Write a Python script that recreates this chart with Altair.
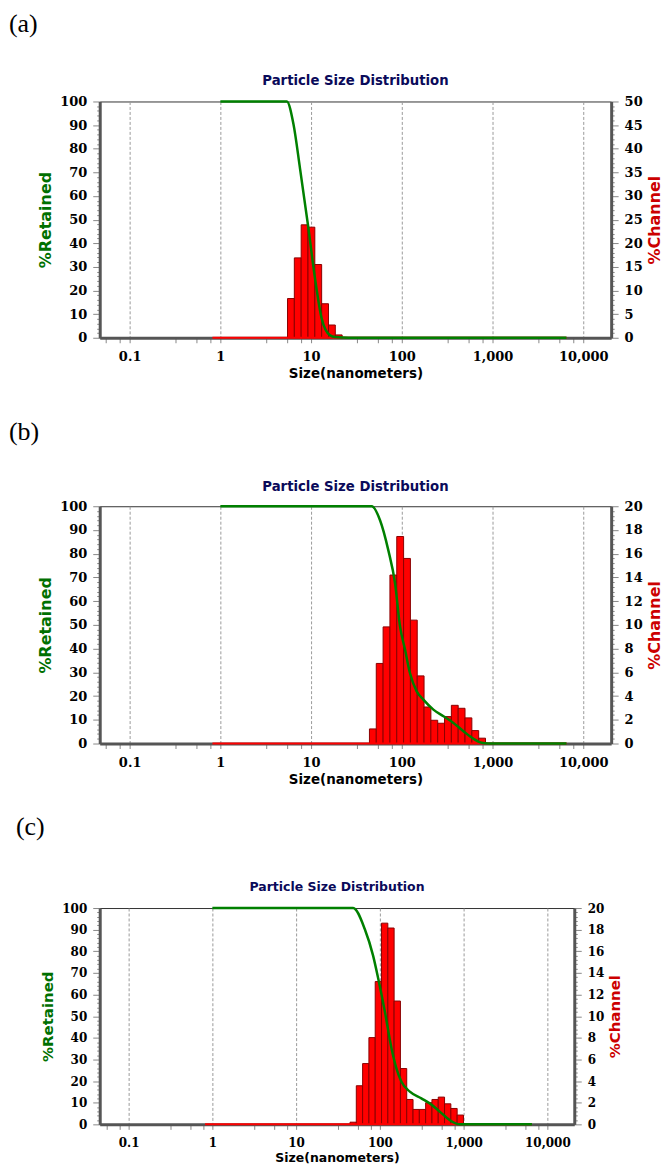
import altair as alt
import pandas as pd

# ---------------- text ----------------
TAGS = ["(a)", "(b)", "(c)"]
PANEL_TITLE = "Particle Size Distribution"
X_TITLE = "Size(nanometers)"
Y_LEFT_TITLE = "%Retained"
Y_RIGHT_TITLE = "%Channel"

# ---------------- x axis ticks ----------------
x_major = [0.1, 1, 10, 100, 1000, 10000]
x_minor_factors = [3.2, 5.5, 7.8]

# red zero line (empty channels) and end of the cumulative curve
red_from, red_to = 0.818, 6540

# ---------------- panel (a) ----------------
a_lo = [5.50, 6.54, 7.78, 9.25, 11.00, 13.08, 15.56, 18.50]
a_hi = [6.54, 7.78, 9.25, 11.00, 13.08, 15.56, 18.50, 22.00]
a_channel = [8.3, 16.9, 23.9, 23.4, 15.5, 7.2, 2.7, 0.6]
a_size = [1, 5.4, 6.4, 7.57, 9.3, 11.06, 13.1, 16.2, 18.5, 26, 6540]
a_retained = [100, 100, 90.4, 71.4, 47, 25, 8.1, 1.0, 0.3, 0, 0]

# ---------------- panel (b) ----------------
b_lo = [44.00, 52.33, 62.23, 74.00, 88.00, 104.7, 124.5, 148.0, 176.0,
        209.3, 248.9, 296.0, 352.0, 418.6, 497.8, 592.0, 704.0]
b_hi = [52.33, 62.23, 74.00, 88.00, 104.7, 124.5, 148.0, 176.0, 209.3,
        248.9, 296.0, 352.0, 418.6, 497.8, 592.0, 704.0, 837.2]
b_channel = [1.23, 6.75, 9.83, 14.2, 17.45, 15.6, 10.4, 5.7, 3.08,
             1.96, 1.71, 2.27, 3.22, 2.97, 2.16, 1.09, 0.45]
b_size = [1, 46.7, 57.7, 71, 84.3, 95.7, 108.7, 123, 146, 173, 223, 288,
          371, 478, 617, 758, 900, 6540]
b_retained = [100, 100, 94, 81.5, 67.5, 49.3, 39.5, 29.7, 22, 18.5, 14.3,
              11.5, 8.7, 5.2, 2, 0.3, 0, 0]

# ---------------- panel (c) ----------------
c_lo = [44.00, 52.33, 62.23, 74.00, 88.00, 104.7, 124.5, 148.0, 176.0,
        209.3, 248.9, 296.0, 352.0, 418.6, 497.8, 592.0, 704.0, 837.2]
c_hi = [52.33, 62.23, 74.00, 88.00, 104.7, 124.5, 148.0, 176.0, 209.3,
        248.9, 296.0, 352.0, 418.6, 497.8, 592.0, 704.0, 837.2, 995.6]
c_channel = [0.2, 3.57, 5.62, 8.02, 13.2, 18.6, 18.15, 11.4, 5.16,
             2.3, 1.38, 1.38, 2.0, 2.3, 2.52, 1.9, 1.47, 0.86]
c_size = [1, 48, 66, 83, 95.7, 115, 138, 158, 181, 228, 313, 394, 518,
          681, 896, 6540]
c_retained = [100, 100, 90.3, 78, 67.3, 51.9, 35, 25.8, 19.7, 15.1, 12,
              9.7, 5.9, 2, 0, 0]

MAJOR_X = "abs(log(datum.value)/LN10 - round(log(datum.value)/LN10)) < 0.001"


def panel(tag, lo, hi, chan, size, ret, cmax, cmajor, cminor, w, h, xdom,
          tag_x, tag_y, title_y, lab_fs, title_fs, head_fs, spacer_y=None):
    bars_df = pd.DataFrame({"lo": lo, "hi": hi, "pct": chan})
    curve_df = pd.DataFrame({"size": size, "ret": ret})
    base_df = pd.DataFrame({"a": [red_from], "b": [red_to], "z": [0.0]})

    decades = [0.01] + x_major
    xticks = sorted(set(x_major + [round(d * f, 6) for d in decades
                                   for f in x_minor_factors
                                   if xdom[0] <= d * f <= xdom[1]]))
    xscale = alt.Scale(type="log", domain=xdom, nice=False)
    xaxis = alt.Axis(
        values=xticks, title=X_TITLE, orient="bottom",
        labelExpr=f"({MAJOR_X}) ? format(datum.value, ',') : ''",
        gridOpacity={"condition": {"test": MAJOR_X, "value": 1}, "value": 0},
        tickSize=5, labelPadding=8, labelFontSize=lab_fs,
        titleFontSize=title_fs, titlePadding=3, labelFlush=False,
        labelOverlap=False,
    )

    lvals = list(range(0, 101, 2))
    major_l = "abs(datum.value - round(datum.value/10)*10) < 1e-6"
    laxis = alt.Axis(
        values=lvals, orient="left", title=Y_LEFT_TITLE, titleColor="#007000",
        labelExpr=f"({major_l}) ? datum.label : ''",
        gridOpacity={"condition": {"test": major_l, "value": 1}, "value": 0},
        tickSize={"condition": {"test": major_l, "value": 7}, "value": 3},
        labelPadding=6, labelFontSize=lab_fs, titleFontSize=title_fs + 2.5,
        titlePadding=6, labelOverlap=False,
    )

    nstep = int(round(cmax / cminor))
    rvals = [round(k * cminor, 3) for k in range(nstep + 1)]
    major_r = f"abs(datum.value - round(datum.value/{cmajor})*{cmajor}) < 1e-6"
    raxis = alt.Axis(
        values=rvals, orient="right", title=Y_RIGHT_TITLE, titleColor="#cc0000",
        titleAngle=270, titleBaseline="top",
        labelExpr=f"({major_r}) ? format(datum.value, 'd') : ''",
        grid=False,
        tickSize={"condition": {"test": major_r, "value": 7}, "value": 3},
        labelPadding=6, labelFontSize=lab_fs, titleFontSize=title_fs + 2.5,
        titlePadding=4, labelOverlap=False,
    )

    yr = alt.Scale(domain=[0, cmax], nice=False)
    bars = alt.Chart(bars_df).mark_rect(
        color="#ff0000", stroke="#8b0000", strokeWidth=1
    ).encode(
        x=alt.X("lo:Q", scale=xscale, axis=xaxis),
        x2="hi:Q",
        y=alt.Y("pct:Q", scale=yr, axis=raxis),
        y2=alt.datum(0),
    )
    base = alt.Chart(base_df).mark_rule(color="#ff0000", strokeWidth=2).encode(
        x=alt.X("a:Q", scale=xscale, axis=xaxis),
        x2="b:Q",
        y=alt.Y("z:Q", scale=yr, axis=raxis),
    )
    green = alt.Chart(curve_df).mark_line(
        color="#008000", strokeWidth=2.5, interpolate="monotone"
    ).encode(
        x=alt.X("size:Q", scale=xscale, axis=xaxis),
        y=alt.Y("ret:Q", scale=alt.Scale(domain=[0, 100], nice=False), axis=laxis),
    )
    tag_layer = alt.Chart(pd.DataFrame({"t": [tag]})).mark_text(
        font="Liberation Serif", fontSize=26, align="left", baseline="top",
        color="black"
    ).encode(x=alt.value(tag_x), y=alt.value(tag_y), text="t:N")
    title_layer = alt.Chart(pd.DataFrame({"t": [PANEL_TITLE]})).mark_text(
        font="DejaVu Sans", fontWeight="bold", fontSize=head_fs,
        color="#0a0a5a", align="center", baseline="middle"
    ).encode(x=alt.value(w / 2), y=alt.value(title_y), text="t:N")

    layers = [alt.layer(bars, base), green, tag_layer, title_layer]
    if spacer_y is not None:
        # invisible element that only reserves vertical room below the panel
        spacer = alt.Chart(pd.DataFrame({"t": ["."]})).mark_text(
            fontSize=10, baseline="bottom", opacity=0
        ).encode(x=alt.value(w / 2), y=alt.value(spacer_y), text="t:N")
        layers.append(spacer)

    return alt.layer(*layers).resolve_scale(y="independent").properties(
        width=w, height=h)


pa = panel(TAGS[0], a_lo, a_hi, a_channel, a_size, a_retained, 50, 5, 1,
           513, 237, [0.0468, 20320], -91, -91, -21, 13, 13.5, 13.3,
           spacer_y=290)
pb = panel(TAGS[1], b_lo, b_hi, b_channel, b_size, b_retained, 20, 2, 0.4,
           513, 238, [0.0468, 20320], -91, -87, -19, 13, 13.5, 13.3)
pc = panel(TAGS[2], c_lo, c_hi, c_channel, c_size, c_retained, 20, 2, 0.4,
           476, 217, [0.0452, 20950], -84, -94, -21, 12, 12.5, 12.5)

chart = alt.ConcatChart(
    concat=[pa, pb, pc], columns=1, spacing=27, align="none"
).properties(padding=0).configure_view(
    stroke="#333333", strokeWidth=1
).configure_axis(
    labelFont="DejaVu Serif", labelFontWeight="bold", labelColor="black",
    titleFont="DejaVu Sans", titleFontWeight="bold", titleColor="black",
    domainColor="#555555", domainWidth=3, tickColor="#888888", tickWidth=1,
    gridColor="#9a9a9a", gridDash=[3, 2], gridWidth=1,
)

chart.save("out.html", embed_options={"renderer": "svg", "actions": False})
